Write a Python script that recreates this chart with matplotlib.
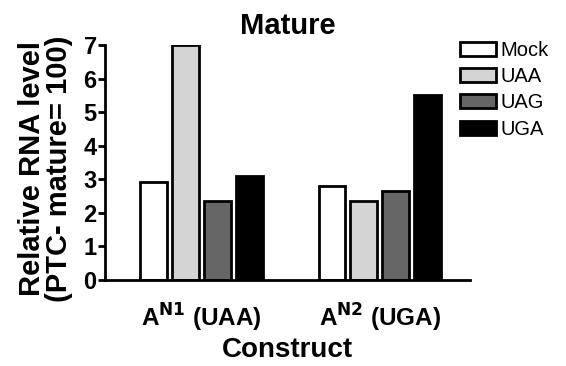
import numpy as np
import matplotlib
matplotlib.use("Agg")
import matplotlib.pyplot as plt

plt.rcParams['font.family'] = ['Liberation Sans', 'DejaVu Sans']

constructs = [r'A$^{\mathbf{N1}}$ (UAA)', r'A$^{\mathbf{N2}}$ (UGA)']
treatments = ['Mock', 'UAA', 'UAG', 'UGA']
values = {
    'Mock': [2.93, 2.81],
    'UAA': [7.0, 2.36],
    'UAG': [2.36, 2.64],
    'UGA': [3.1, 5.5],
}
colors = ['#ffffff', '#d4d4d4', '#666666', '#000000']

fig = plt.figure(figsize=(5.66, 3.66), dpi=100)
ax = fig.add_axes([0.1855, 0.235, 0.6445, 0.642])

x = np.arange(len(constructs))
width = 0.15
pitch = 0.179
for i, t in enumerate(treatments):
    ax.bar(x + (i - 1.5) * pitch, values[t], width, color=colors[i],
           edgecolor='black', linewidth=2, label=t)

ax.set_xlim(-0.54, 1.504)
ax.set_ylim(0, 7)
ax.set_yticks(range(8))
ax.set_xticks(x)
ax.set_xticklabels(constructs, fontsize=17.5, fontweight='bold')
ax.tick_params(axis='x', length=0, pad=16)
ax.tick_params(axis='y', width=2, length=5, labelsize=17, pad=1)
for lab in ax.get_yticklabels():
    lab.set_fontweight('bold')

for s in ['top', 'right']:
    ax.spines[s].set_visible(False)
for s in ['left', 'bottom']:
    ax.spines[s].set_linewidth(2)

ax.set_title('Mature', fontsize=21, fontweight='bold', pad=8)
ax.set_xlabel('Construct', fontsize=20, fontweight='bold', labelpad=2)
ax.set_ylabel('Relative RNA level\n(PTC- mature= 100)', fontsize=21,
              fontweight='bold', linespacing=0.95)
ax.yaxis.set_label_coords(-0.088, 0.475)

fig.legend(loc='upper left', bbox_to_anchor=(0.798, 0.91), frameon=False,
           fontsize=14.5, handlelength=1.8, handleheight=0.7, handletextpad=0.2,
           labelspacing=0.36, borderaxespad=0)

fig.savefig('out.png', dpi=100)
